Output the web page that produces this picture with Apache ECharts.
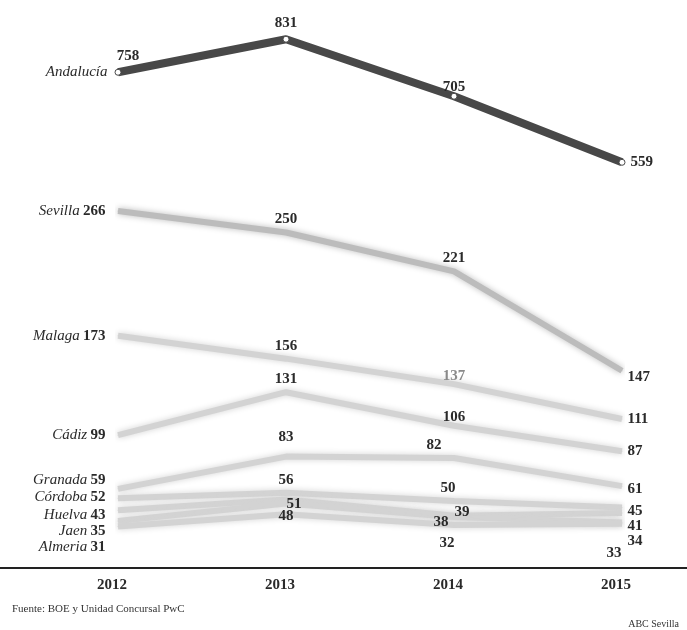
<!DOCTYPE html>
<html><head><meta charset="utf-8">
<script src="https://cdn.jsdelivr.net/npm/echarts@6/dist/echarts.min.js"></script>
<style>html,body{margin:0;padding:0;background:#fff}#c{width:687px;height:630px}</style>
</head><body><div id="c"></div>
<script>
const years = ['2012','2013','2014','2015'];
const andalucia = [758,831,705,559];
const sevilla = [266,250,221,147];
const malaga = [173,156,137,111];
const cadiz = [99,131,106,87];
const granada = [59,83,82,61];
const cordoba = [52,56,50,45];
const huelva = [43,51,39,41];
const jaen = [35,48,38,34];
const almeria = [31,40,32,33];
const provinceNames = ['Sevilla','Malaga','Cádiz','Granada','Córdoba','Huelva','Jaen','Almeria'];
const provinceValues = [sevilla,malaga,cadiz,granada,cordoba,huelva,jaen,almeria];
const sourceText = 'Fuente: BOE y Unidad Concursal PwC';
const creditText = 'ABC Sevilla';

// label placement (style only)
const L = (pos, off, extra) => Object.assign({pos, off: off || [0,0]}, extra || {});
const provLabels = [
  [L('left',[0,0]), L('top'), L('top'), L('right',[0,6])],
  [L('left',[0,0]), L('top'), L('top',[0,5],{color:'#8a8a8a'}), L('right')],
  [L('left',[0,0]), L('top'), L('top',[0,4]), L('right')],
  [L('left',[0,-9]), L('top',[0,-6]), L('top',[-20,0]), L('right',[0,3])],
  [L('left',[0,-1]), L('top'), L('top',[-6,0]), L('right',[0,4])],
  [L('left',[0,5]), L('inside',[8,5]), L('inside',[8,-4]), L('right',[0,13])],
  [L('left',[0,10]), L('bottom'), L('left',[0,5]), L('right',[0,19])],
  [L('left',[0,21]), null, L('bottom',[-7,5]), L('bottom',[-8,16])]
];
const andLabels = [L('top',[10,0]), L('top'), L('top',[0,7]), L('right')];

const numStyle = {fontFamily:'Liberation Serif', fontWeight:'bold', fontSize:15, color:'#2a2a2a'};
const nameStyle = {fontFamily:'Liberation Serif', fontStyle:'italic', fontWeight:'normal', fontSize:15, color:'#2a2a2a'};

function buildData(vals, cfg, name) {
  return vals.map((v, i) => {
    const c = cfg[i];
    if (!c) return {value: v, label: {show: false}};
    const lab = {show: true, position: c.pos, offset: c.off, distance: 5};
    if (i === 0 && name) {
      lab.formatter = '{n|' + name + '} {v|' + v + '}';
      lab.distance = 12;
      lab.rich = {n: nameStyle, v: numStyle};
    } else {
      lab.formatter = String(v);
      Object.assign(lab, numStyle);
      if (c.color) lab.color = c.color;
    }
    return {value: v, label: lab};
  });
}

const series = [];
provinceValues.forEach((vals, k) => {
  const col = k === 0 ? '#bcbcbc' : '#d3d3d3';
  series.push({
    type: 'line', name: provinceNames[k], xAxisIndex: 1, yAxisIndex: 1,
    data: buildData(vals, provLabels[k], provinceNames[k]),
    symbol: 'circle', symbolSize: 1, showSymbol: true,
    itemStyle: {color: col},
    lineStyle: {color: col, width: 6, shadowBlur: 6, shadowColor: col},
    z: 2, silent: true, animation: false
  });
});
series.push({
  type: 'line', name: 'Andalucía', xAxisIndex: 0, yAxisIndex: 0,
  data: buildData(andalucia, andLabels, null),
  symbol: 'circle', symbolSize: 6,
  itemStyle: {color: '#ffffff', borderColor: '#4a4a4a', borderWidth: 1},
  lineStyle: {color: '#484848', width: 8},
  z: 5, silent: true, animation: false
});
series.push({
  type: 'line', name: 'Andalucía-name', xAxisIndex: 0, yAxisIndex: 0,
  data: andalucia.map((v, i) => i === 0 ? {value: v, label: {show: true, position: 'left', distance: 10, formatter: 'Andalucía', ...nameStyle}} : {value: null}),
  symbol: 'circle', symbolSize: 1, itemStyle: {color: 'rgba(0,0,0,0)'},
  lineStyle: {width: 0}, z: 1, silent: true, animation: false
});

const chart = echarts.init(document.getElementById('c'), null, {renderer: 'canvas'});
chart.setOption({
  backgroundColor: '#ffffff',
  animation: false,
  title: [
    {text: sourceText, left: 7, top: 599, textStyle: {fontFamily: 'Liberation Serif', fontSize: 11, fontWeight: 'normal', color: '#333'}},
    {text: creditText, right: 3, top: 614, textStyle: {fontFamily: 'Liberation Serif', fontSize: 10, fontWeight: 'normal', color: '#333'}}
  ],
  grid: [
    {left: 118, right: 65, top: 8, height: 181},
    {left: 118, right: 65, top: 152, height: 416},
    {left: 0, right: 0, top: 567, height: 1}
  ],
  xAxis: [
    {gridIndex: 0, type: 'category', data: years, boundaryGap: false, show: false},
    {gridIndex: 1, type: 'category', data: years, boundaryGap: false,
      axisLine: {show: false}, axisTick: {show: false}, splitLine: {show: false},
      axisLabel: {margin: 10, padding: [0, 12, 0, 0], fontFamily: 'Liberation Serif', fontWeight: 'bold', fontSize: 15, color: '#2a2a2a'}},
    {gridIndex: 2, type: 'value', min: 0, max: 1, axisLine: {show: true, lineStyle: {color: '#222', width: 2}},
      axisTick: {show: false}, axisLabel: {show: false}, splitLine: {show: false}}
  ],
  yAxis: [
    {gridIndex: 0, type: 'value', min: 500, max: 900, show: false},
    {gridIndex: 1, type: 'value', min: 0, max: 310, show: false},
    {gridIndex: 2, type: 'value', min: 0, max: 1, show: false}
  ],
  series: series
});
</script></body></html>
